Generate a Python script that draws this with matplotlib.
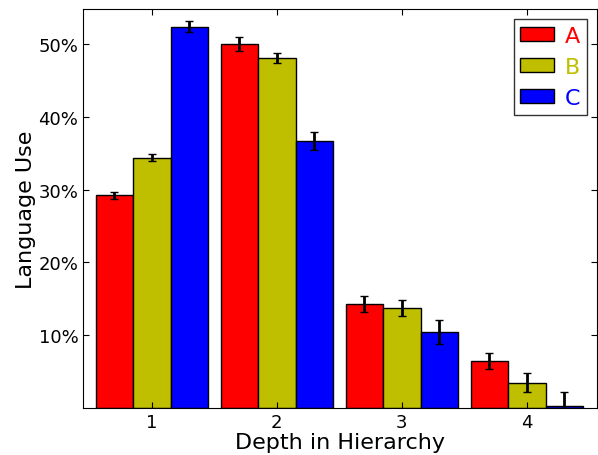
import matplotlib.pyplot as plt
import numpy as np

depths = [1, 2, 3, 4]
labels = ['A', 'B', 'C']
colors = ['red', '#bfbf00', 'blue']

# language use per depth (fraction) and error bars
values = [
    [0.292, 0.500, 0.143, 0.065],  # A
    [0.344, 0.481, 0.138, 0.035],  # B
    [0.524, 0.367, 0.105, 0.003],  # C
]
errors = [
    [0.005, 0.009, 0.011, 0.011],
    [0.005, 0.007, 0.011, 0.0135],
    [0.007, 0.012, 0.0165, 0.019],
]

width = 0.3
x = np.array(depths)

fig = plt.figure(figsize=(5.98, 4.56), dpi=100)
ax = fig.add_axes([0.139, 0.103, 0.859, 0.875])

for i in range(3):
    ax.bar(x + (i - 1) * width, values[i], width, color=colors[i],
           edgecolor='black', linewidth=1, label=labels[i],
           yerr=errors[i], ecolor='black',
           error_kw=dict(elinewidth=2, capsize=3, capthick=1))

ax.set_xlim(0.45, 4.56)
ax.set_ylim(0, 0.548)
ax.set_xticks(depths)
ax.set_yticks([0.1, 0.2, 0.3, 0.4, 0.5])
ax.set_yticklabels(['10%', '20%', '30%', '40%', '50%'])
ax.tick_params(direction='in', top=True, right=True, labelsize=13, length=4)
ax.set_xlabel('Depth in Hierarchy', fontsize=16, labelpad=1)
ax.set_ylabel('Language Use', fontsize=16, labelpad=2)

leg = ax.legend(loc='upper right', fontsize=16, fancybox=False,
                handlelength=1.5, handleheight=0.55, handletextpad=0.5,
                labelspacing=0.5, borderpad=0.3, borderaxespad=0.45)
leg.get_frame().set_edgecolor('black')
for text, c in zip(leg.get_texts(), colors):
    text.set_color(c)

fig.savefig('out.png')
